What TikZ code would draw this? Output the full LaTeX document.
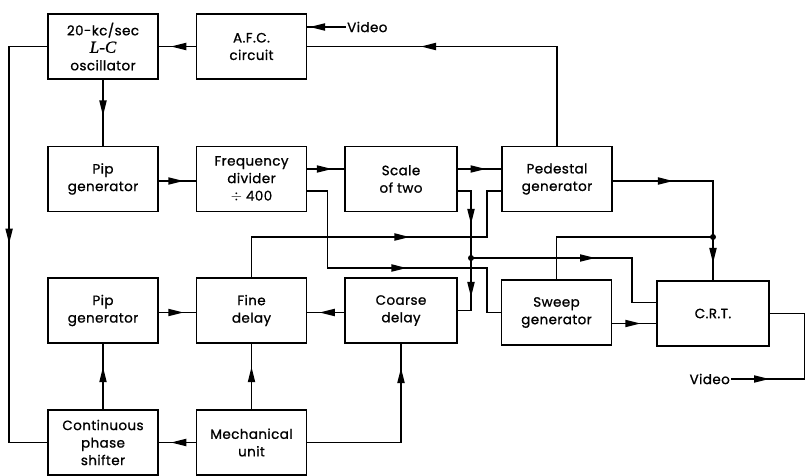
\documentclass[tikz,border=0pt]{standalone}
\usepackage{fontspec}
\setmainfont{Poppins}[FakeBold=1, LetterSpace=3]
\newfontfamily\lcfont{Liberation Serif}[FakeBold=1]
\usetikzlibrary{arrows.meta,decorations.markings}
\tikzset{
blk/.style={draw, line width=1.8pt, minimum width=110pt, minimum height=65pt, align=center, inner sep=2pt, font=\fontsize{13.5}{17.5}\selectfont},
lbl/.style={font=\fontsize{13.5}{15}\selectfont, inner sep=1pt},
wire/.style={line width=1.3pt},
tipat/.style={postaction={decorate, decoration={markings, mark=at position #1 with {\fill (-9pt,-3.8pt) -- (6pt,0pt) -- (-9pt,3.8pt) -- cycle;}}}}
}
\begin{document}
\begin{tikzpicture}[x=1pt, y=-1pt]
\useasboundingbox (0,0) rectangle (806,475);
% top row
\node[blk] (osc) at (103,46.5) {20-kc/sec\\{\lcfont\itshape\fontsize{17}{17.5}\selectfont L-C}\\oscillator};
\node[blk] (afc) at (251.5,46.5) {A.F.C.\\circuit};
% second row
\node[blk] (pipa) at (103,179) {Pip\\generator};
\node[blk] (fdiv) at (251.5,179) {Frequency\\divider\\$\div$ 400};
\node[blk, minimum width=112pt] (scale) at (401,179) {Scale\\of two};
\node[blk] (ped) at (557,179) {Pedestal\\generator};
% third row
\node[blk] (pipb) at (103,310.5) {Pip\\generator};
\node[blk] (fine) at (251.5,310.5) {Fine\\delay};
\node[blk, minimum width=112pt] (coarse) at (401,310.5) {Coarse\\delay};
\node[blk] (sweep) at (556.5,312.5) {Sweep\\generator};
\node[blk, minimum width=112pt] (crt) at (713,313.5) {C.R.T.};
% bottom row
\node[blk] (cps) at (103,442.5) {Continuous\\phase\\shifter};
\node[blk] (mech) at (251.5,442.5) {Mechanical\\unit};
% video inputs
\node[lbl, anchor=west] (vida) at (346,27) {Video};
\node[lbl, anchor=east] (vidb) at (731,379) {Video};
\coordinate (ja) at (471,258);
\coordinate (jb) at (713,237);

% oscillator loop
\draw[wire, tipat=0.5] (afc.west) -- (osc.east);
\draw[wire, tipat=30pt] (vida.west) -- (vida.west -| afc.east);
\draw[wire, tipat=229pt] (ped.north) |- (afc.east);
\draw[wire, tipat=0.45] (osc.south) -- (pipa.north);
\draw[wire, tipat=229pt] (osc.west) -- ++(-38,0) |- (cps.west);

% divider chain
\draw[wire, tipat=0.5] ([yshift=-2pt]pipa.east) -- ([yshift=-2pt]fdiv.west);
\draw[wire, tipat=0.5] ([yshift=10pt]fdiv.east) -- ([yshift=10pt]scale.west);
\draw[wire, tipat=0.5] ([yshift=10pt]scale.east) -- ([yshift=10pt]ped.west);
\draw[wire, tipat=40pt, tipat=113pt] ([yshift=-12pt]scale.east) -| (ja) |- (coarse.east);
\draw[wire, tipat=118pt] (ja) -| ([xshift=-24pt,yshift=11pt]crt.west) -- ([yshift=11pt]crt.west);
\draw[wire, tipat=170pt] ([yshift=-12pt]fdiv.east) -- ++(20,0) |- (487,268) |- (sweep.west);
\draw[wire, tipat=192pt] (fine.north) |- (487,237) |- ([yshift=-12pt]ped.west);

% display
\draw[wire, tipat=54pt, tipat=176pt] ([yshift=-2pt]ped.east) -| (crt.north);
\draw[wire] (jb) -| (sweep.north);
\draw[wire, tipat=0.5] ([yshift=-11pt]sweep.east) -- ([yshift=-11pt]sweep.east -| crt.west);
\draw[wire, tipat=32pt] (vidb.east) -- (804.5,379) |- (crt.east);
\fill (ja) circle (3pt);
\fill (jb) circle (3pt);

% delay controls
\draw[wire, tipat=0.5] ([yshift=-2pt]pipb.east) -- ([yshift=-2pt]fine.west);
\draw[wire, tipat=0.5] ([yshift=-2pt]coarse.west) -- ([yshift=-2pt]fine.east);
\draw[wire, tipat=0.55] (cps.north) -- (pipb.south);
\draw[wire, tipat=0.55] (mech.north) -- (fine.south);
\draw[wire, tipat=0.5] (mech.west) -- (cps.east);
\draw[wire, tipat=162pt] (mech.east) -| (coarse.south);
\end{tikzpicture}
\end{document}
